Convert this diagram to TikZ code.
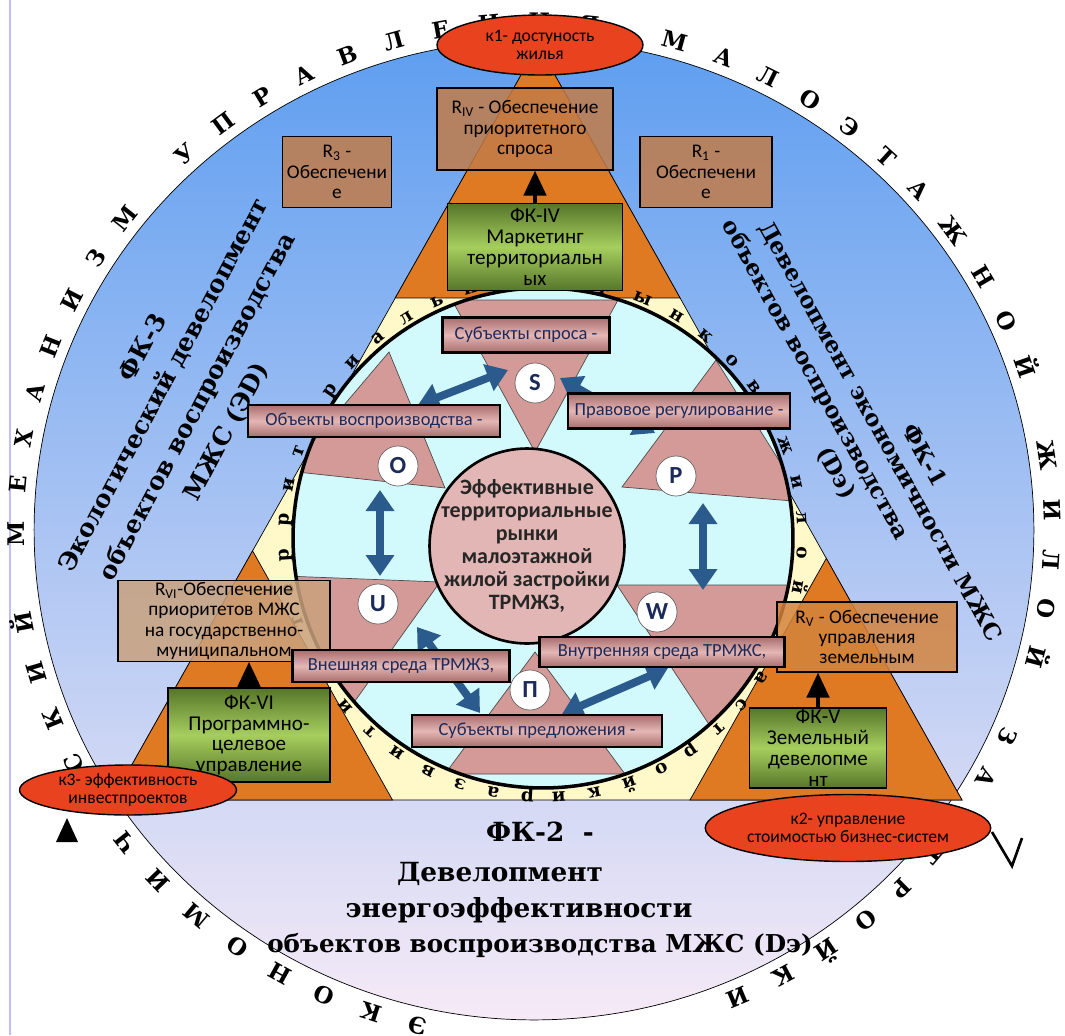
\documentclass[tikz,border=0pt]{standalone}
\usepackage{fontspec}
\usetikzlibrary{positioning, calc, shapes.geometric, arrows.meta, decorations.text}
\newfontfamily\boxfont{Carlito}
\newfontfamily\decofont{DejaVu Serif}

\definecolor{cSkyTop}{HTML}{5E9EF0}
\definecolor{cSkyMid}{HTML}{96C4F4}
\definecolor{cSkyBot}{HTML}{F6EAF6}
\definecolor{cCream}{HTML}{FFF8C8}
\definecolor{cOrange}{HTML}{E07A22}
\definecolor{cCyan}{HTML}{D2FAFC}
\definecolor{cPinkTri}{HTML}{D49A98}
\definecolor{cPinkCore}{HTML}{E2B6B4}
\definecolor{cPinkLight}{HTML}{E4B6B4}
\definecolor{cPinkDark}{HTML}{A86E6E}
\definecolor{cBrown}{HTML}{C27C48}
\definecolor{cTan}{HTML}{C9A27E}
\definecolor{cOchre}{HTML}{D4843E}
\definecolor{cGreenDark}{HTML}{56762A}
\definecolor{cGreenLight}{HTML}{A6CE5E}
\definecolor{cRed}{HTML}{E8421E}
\definecolor{cArrow}{HTML}{2B5B8C}
\definecolor{cLetter}{HTML}{1C2A5A}

\begin{document}
\begin{tikzpicture}[x=0.02cm, y=-0.02cm,
  brownbox/.style={draw, line width=0.8pt, fill=cBrown, fill opacity=0.85, text opacity=1,
    align=center, inner sep=1pt, font=\boxfont\fontsize{11}{11.5}\selectfont},
  greenbox/.style={draw, line width=0.8pt, top color=cGreenDark, bottom color=cGreenDark,
    middle color=cGreenLight, align=center, inner sep=1pt, font=\boxfont\fontsize{12}{11.8}\selectfont},
  pinkbox/.style={draw, line width=1.2pt, top color=cPinkDark, bottom color=cPinkDark,
    middle color=cPinkLight, align=center, inner sep=1pt, text=cLetter,
    font=\boxfont\fontsize{10.5}{12}\selectfont},
  letter/.style={circle, draw=black!60, fill=white, minimum size=0.8cm, inner sep=0pt,
    text=cLetter, font=\boxfont\bfseries\fontsize{14}{14}\selectfont},
  oval/.style={ellipse, draw, line width=0.8pt, fill=cRed, inner sep=0pt, align=center,
    font=\boxfont\fontsize{10}{10.5}\selectfont},
  pinktri/.style={fill=cPinkTri, draw=black!70, thin},
  barrow/.style={draw=cArrow, line width=4.5pt,
    arrows={Triangle[length=4.2mm, width=5.5mm]-Triangle[length=4.2mm, width=5.5mm]}},
  karrow/.style={line width=2pt, arrows={-Triangle[length=5mm, width=4.5mm]}},
  decotext/.style={inner sep=0pt, font=\decofont\bfseries\fontsize{14}{16}\selectfont}
]
  \useasboundingbox (0,0) rectangle (1065,1035);
  \draw[blue!25, line width=1pt] (10,0) -- (10,1035);

  % Outer field and its lettering
  \draw[thin, top color=cSkyTop, middle color=cSkyMid, bottom color=cSkyBot]
    (534,530) ellipse [x radius=10cm, y radius=9.8cm];
  \path[decorate, decoration={text along path, text align={fit to path},
      text={|\decofont\bfseries\fontsize{13}{13}\selectfont|ЭКОНОМИЧЕСКИЙ МЕХАНИЗМ УПРАВЛЕНИЯ МАЛОЭТАЖНОЙ ЖИЛОЙ ЗАСТРОЙКИ}}]
    (534,530) ++(258:10.2cm and 10cm) arc [start angle=258, end angle=-68, x radius=10.2cm, y radius=10cm];
  \fill (56,842) -- (78,842) -- (67,818) -- cycle;
  \draw[line width=1.5pt] (992,832) -- (1012,866) -- (1022,838);

  % Big triangle with orange corners
  \coordinate (T) at (538,45);
  \coordinate (BL) at (112,800);
  \coordinate (BR) at (962,800);
  \draw[thin, fill=cCream] (T) -- (BL) -- (BR) -- cycle;
  \draw[thin, fill=cOrange] (T) -- ($(T)!0.335!(BL)$) -- ($(T)!0.335!(BR)$) -- cycle;
  \draw[thin, fill=cOrange] (BL) -- ($(BL)!0.33!(T)$) -- ($(BL)!0.33!(BR)$) -- cycle;
  \draw[thin, fill=cOrange] (BR) -- ($(BR)!0.32!(T)$) -- ($(BR)!0.32!(BL)$) -- cycle;

  % Inner circle with the six triangles
  \node[circle, fill=cCyan, minimum size=10cm, inner sep=0pt] (ring) at (543,538) {};
  \begin{scope}
    \clip (543,538) circle [radius=5cm];
    \draw[pinktri] (452,300) -- (618,300) -- (535,452) -- cycle;
    \draw[pinktri] (389,352) -- (288,471) -- (445,488) -- cycle;
    \draw[pinktri] (716,360) -- (622,487) -- (805,502) -- cycle;
    \draw[pinktri] (285,576) -- (440,582) -- (345,715) -- cycle;
    \draw[pinktri] (617,585) -- (805,585) -- (718,738) -- cycle;
    \draw[pinktri] (535,652) -- (445,774) -- (625,774) -- cycle;
  \end{scope}
  \draw[line width=2pt] (ring.center) circle [radius=5cm];
  \path[decorate, decoration={text along path, text align={fit to path},
      text={|\decofont\bfseries\fontsize{10.5}{10.5}\selectfont|развитие территориальных рынков жилой застройки}}]
    (543,538) ++(268:5.09cm) arc [start angle=268, end angle=-88, radius=5.09cm];

  % Links inside the circle
  \coordinate (aO) at (418,405);
  \coordinate (aS) at (508,370);
  \coordinate (aP) at (655,433);
  \coordinate (aS2) at (560,378);
  \coordinate (aO2) at (380,490);
  \coordinate (aU) at (380,576);
  \coordinate (aP2) at (703,503);
  \coordinate (aW) at (703,590);
  \coordinate (aU2) at (417,627);
  \coordinate (aN) at (480,713);
  \coordinate (aN2) at (562,714);
  \coordinate (aW2) at (668,668);
  \draw[barrow] (aO) -- (aS);
  \draw[barrow] (aP) -- (aS2);
  \draw[barrow] (aO2) -- (aU);
  \draw[barrow] (aP2) -- (aW);
  \draw[barrow] (aU2) -- (aN);
  \draw[barrow] (aN2) -- (aW2);

  \node[circle, draw, line width=1.5pt, fill=cPinkCore, minimum size=3.9cm] (core) at (527,546) {};
  \node[align=center, text=black!85, font=\boxfont\bfseries\fontsize{12.5}{13}\selectfont] (coretext) at (core)
    {Эффективные\\территориальные\\рынки\\малоэтажной\\жилой застройки\\ТРМЖЗ,};

  \node[letter] (lS) at (535,383) {S};
  \node[letter] (lO) at (398,466) {O};
  \node[letter] (lP) at (676,476) {P};
  \node[letter] (lU) at (378,604) {U};
  \node[letter] (lW) at (657,612) {W};
  \node[letter] (lN) at (530,690) {П};

  % Tasks R
  \node[brownbox, minimum width=3.52cm, minimum height=1.64cm] (rIV) at (525,129)
    {R\textsubscript{IV} - Обеспечение\\приоритетного\\спроса};
  \node[brownbox, minimum width=2.18cm, minimum height=1.42cm] (rIII) at (337,172)
    {R\textsubscript{3} -\\Обеспечени\\е};
  \node[brownbox, minimum width=2.64cm, minimum height=1.42cm] (rI) at (706,172)
    {R\textsubscript{1} -\\Обеспечени\\е};
  \node[brownbox, fill=cTan, minimum width=4.24cm, minimum height=1.56cm] (rVI) at (224,621)
    {R\textsubscript{VI}-Обеспечение\\приоритетов МЖС\\на государственно-\\муниципальном};
  \node[brownbox, fill=cOchre, minimum width=3.6cm, minimum height=1.4cm] (rV) at (867,637)
    {R\textsubscript{V} - Обеспечение\\управления\\земельным};

  % Labels of the six triangles
  \node[pinkbox, minimum width=3.34cm, minimum height=0.7cm] (subS) at (526,335) {Субъекты спроса -};
  \node[pinkbox, minimum width=5.04cm, minimum height=0.64cm] (objO) at (374,421) {Объекты воспроизводства -};
  \node[pinkbox, minimum width=4.44cm, minimum height=0.7cm] (pravP) at (679,411) {Правовое регулирование -};
  \node[pinkbox, minimum width=4.34cm, minimum height=0.64cm] (vneshU) at (401,666) {Внешняя среда ТРМЖЗ,};
  \node[pinkbox, minimum width=4.9cm, minimum height=0.6cm] (vnutrW) at (662,652) {Внутренняя среда ТРМЖС,};
  \node[pinkbox, minimum width=5.0cm, minimum height=0.64cm] (subP) at (537,731) {Субъекты предложения -};

  % Functional complexes
  \node[greenbox, minimum width=3.5cm, minimum height=1.74cm] (fkIV) at (535,247)
    {ФК-IV\\Маркетинг\\территориальн\\ых};
  \node[greenbox, minimum width=3.24cm, minimum height=1.88cm] (fkVI) at (249,735)
    {ФК-VI\\Программно-\\целевое\\управление};
  \node[greenbox, minimum width=2.74cm, minimum height=1.54cm] (fkV) at (818,748)
    {ФК-V\\Земельный\\девелопме\\нт};
  \draw[karrow] (fkIV.north) -- (fkIV.north |- rIV.south);
  \draw[karrow] (fkVI.north) -- (fkVI.north |- rVI.south);
  \draw[karrow] (fkV.north) -- (fkV.north |- rV.south);

  % Criteria
  \node[oval, minimum width=4.12cm, minimum height=1.2cm] (k1) at (540,45) {к1- достуность\\жилья};
  \node[oval, minimum width=4.34cm, minimum height=1.0cm] (k3) at (128,790) {к3- эффективность\\инвестпроектов};
  \node[oval, minimum width=5.5cm, minimum height=1.34cm] (k2) at (848,828) {к2- управление\\стоимостью бизнес-систем};

  % Side texts
  \node[decotext, rotate=62] (fk3a) at (142,347) {ФК-3};
  \node[decotext, rotate=62] (fk3b) at (163,385) {Экологический девелопмент};
  \node[decotext, rotate=62] (fk3c) at (198,407) {объектов воспроизводства};
  \node[decotext, rotate=62] (fk3d) at (227,432) {МЖС (ЭD)};
  \node[decotext, rotate=-61, font=\decofont\bfseries\fontsize{13}{15}\selectfont] (fk1a) at (925,455) {ФК-1};
  \node[decotext, rotate=-61, font=\decofont\bfseries\fontsize{13}{15}\selectfont] (fk1b) at (880,432) {Девелопмент экономичности МЖС};
  \node[decotext, rotate=-61, font=\decofont\bfseries\fontsize{13}{15}\selectfont] (fk1c) at (815,380) {объектов воспроизводства};
  \node[decotext, rotate=-61, font=\decofont\bfseries\fontsize{13}{15}\selectfont] (fk1d) at (836,473) {(Dэ)};

  % Bottom text
  \node[decotext, font=\decofont\bfseries\fontsize{15}{16}\selectfont] (fk2a) at (540,832) {ФК-2 \ -};
  \node[decotext, font=\decofont\bfseries\fontsize{15}{16}\selectfont] (fk2b) at (500,874) {Девелопмент};
  \node[decotext, font=\decofont\bfseries\fontsize{15}{16}\selectfont] (fk2c) at (519,910) {энергоэффективности};
  \node[decotext, font=\decofont\bfseries\fontsize{14}{16}\selectfont] (fk2d) at (540,945) {объектов воспроизводства МЖС (Dэ)};
\end{tikzpicture}
\end{document}
